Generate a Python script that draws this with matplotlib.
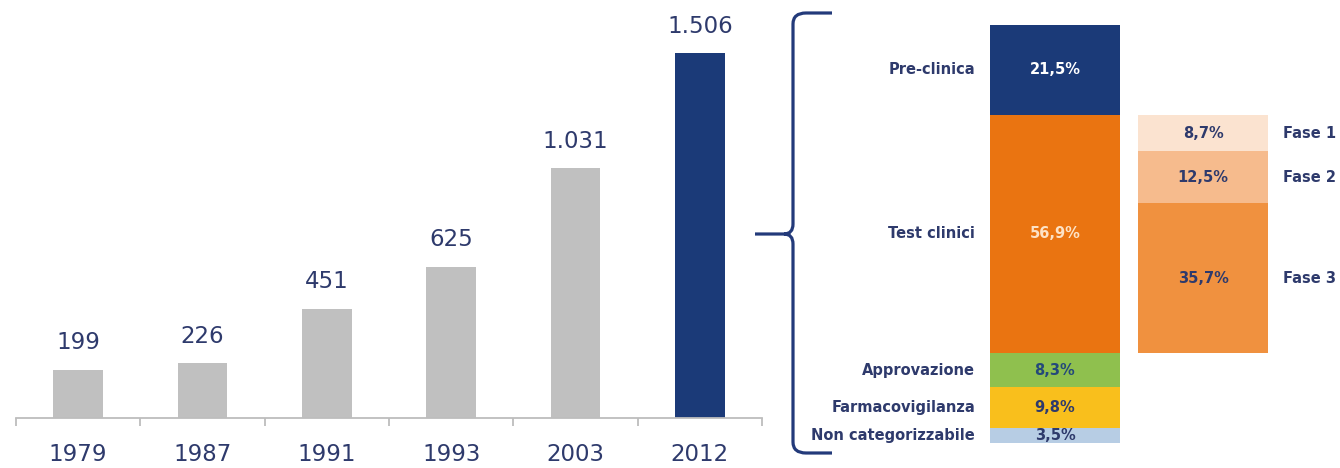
import matplotlib
matplotlib.use("Agg")
import matplotlib.pyplot as plt
from matplotlib.path import Path
from matplotlib.patches import PathPatch

# ---- data ----
years = ["1979", "1987", "1991", "1993", "2003", "2012"]
counts = [199, 226, 451, 625, 1031, 1506]

phases = ["Non categorizzabile", "Farmacovigilanza", "Approvazione", "Test clinici", "Pre-clinica"]
phase_pct = [3.5, 9.8, 8.3, 56.9, 21.5]

fasi = ["Fase 3", "Fase 2", "Fase 1"]
fasi_pct = [35.7, 12.5, 8.7]

# ---- styles ----
NAVY = "#1b3a78"
TXT = "#2e3a6c"
GRAY = "#c0c0c0"
phase_colors = ["#b7cde4", "#f9bf1c", "#8fc04e", "#ea7411", NAVY]
phase_txt = [TXT, TXT, "#24497a", "#fde2c6", "white"]
fasi_colors = ["#f0913f", "#f6bb8d", "#fbe3d0"]

W, H = 1340, 468
fig = plt.figure(figsize=(W / 100, H / 100), dpi=100)

# ---- left bar chart ----
axL = fig.add_axes([16 / W, (H - 418) / H, (762 - 16) / W, (418 - 20) / H])
xs = list(range(len(years)))
cols = [GRAY] * (len(years) - 1) + [NAVY]
bars = axL.bar(xs, counts, width=0.4, color=cols)
axL.set_xlim(-0.5, len(years) - 0.5)
axL.set_ylim(0, 398 / 0.2424)
for b, v in zip(bars, counts):
    axL.annotate(f"{v:,}".replace(",", "."), (b.get_x() + b.get_width() / 2, v),
                 xytext=(0, 11), textcoords="offset points", ha="center", va="bottom",
                 fontsize=16.5, color=TXT)
axL.set_xticks(xs)
axL.set_xticklabels(years, fontsize=16.5, color=TXT)
axL.set_xticks([i - 0.5 for i in range(len(years) + 1)], minor=True)
axL.tick_params(axis="x", which="major", length=0, pad=18)
axL.tick_params(axis="x", which="minor", length=6, width=1.3, color="#bdbdbd", direction="out")
axL.set_yticks([])
for s in ["top", "right", "left"]:
    axL.spines[s].set_visible(False)
axL.spines["bottom"].set_color("#bdbdbd")
axL.spines["bottom"].set_linewidth(1.3)

# ---- right stacked bars ----
axR = fig.add_axes([990 / W, (H - 443) / H, 278 / W, 418 / H])
axR.set_xlim(-0.439, 1.439)
axR.set_ylim(0, 100)
axR.axis("off")
bw = 0.878
bottom = 0
for name, p, c, tc in zip(phases, phase_pct, phase_colors, phase_txt):
    axR.bar(0, p, bottom=bottom, width=bw, color=c)
    mid = bottom + p / 2
    axR.text(0, mid, f"{p:.1f}%".replace(".", ","), ha="center", va="center",
             fontsize=10.5, fontweight="bold", color=tc)
    axR.text(-0.54, mid, name, ha="right", va="center", fontsize=10.5,
             fontweight="bold", color=TXT)
    bottom += p

bottom = phase_pct[0] + phase_pct[1] + phase_pct[2]
for name, p, c in zip(fasi, fasi_pct, fasi_colors):
    axR.bar(1, p, bottom=bottom, width=bw, color=c)
    mid = bottom + p / 2
    axR.text(1, mid, f"{p:.1f}%".replace(".", ","), ha="center", va="center",
             fontsize=10.5, fontweight="bold", color=TXT)
    axR.text(1.54, mid, name, ha="left", va="center", fontsize=10.5,
             fontweight="bold", color=TXT)
    bottom += p

# ---- brace ----
axO = fig.add_axes([0, 0, 1, 1], zorder=5)
axO.set_xlim(0, W)
axO.set_ylim(H, 0)
axO.axis("off")
tipx, tipy = 755, 234
verts = [
    (832, 13), (806, 13), (793, 13), (793, 24),
    (793, 224), (793, 234), (784, 234), (tipx, tipy),
    (784, 234), (793, 234), (793, 244),
    (793, 442), (793, 453), (806, 453), (832, 453),
]
codes = [
    Path.MOVETO, Path.LINETO, Path.CURVE3, Path.CURVE3,
    Path.LINETO, Path.CURVE3, Path.CURVE3, Path.LINETO,
    Path.MOVETO, Path.CURVE3, Path.CURVE3,
    Path.LINETO, Path.CURVE3, Path.CURVE3, Path.LINETO,
]
axO.add_patch(PathPatch(Path(verts, codes), fill=False, edgecolor="#233a7a",
                        linewidth=2.3, capstyle="butt"))

fig.savefig("out.png", dpi=100)
